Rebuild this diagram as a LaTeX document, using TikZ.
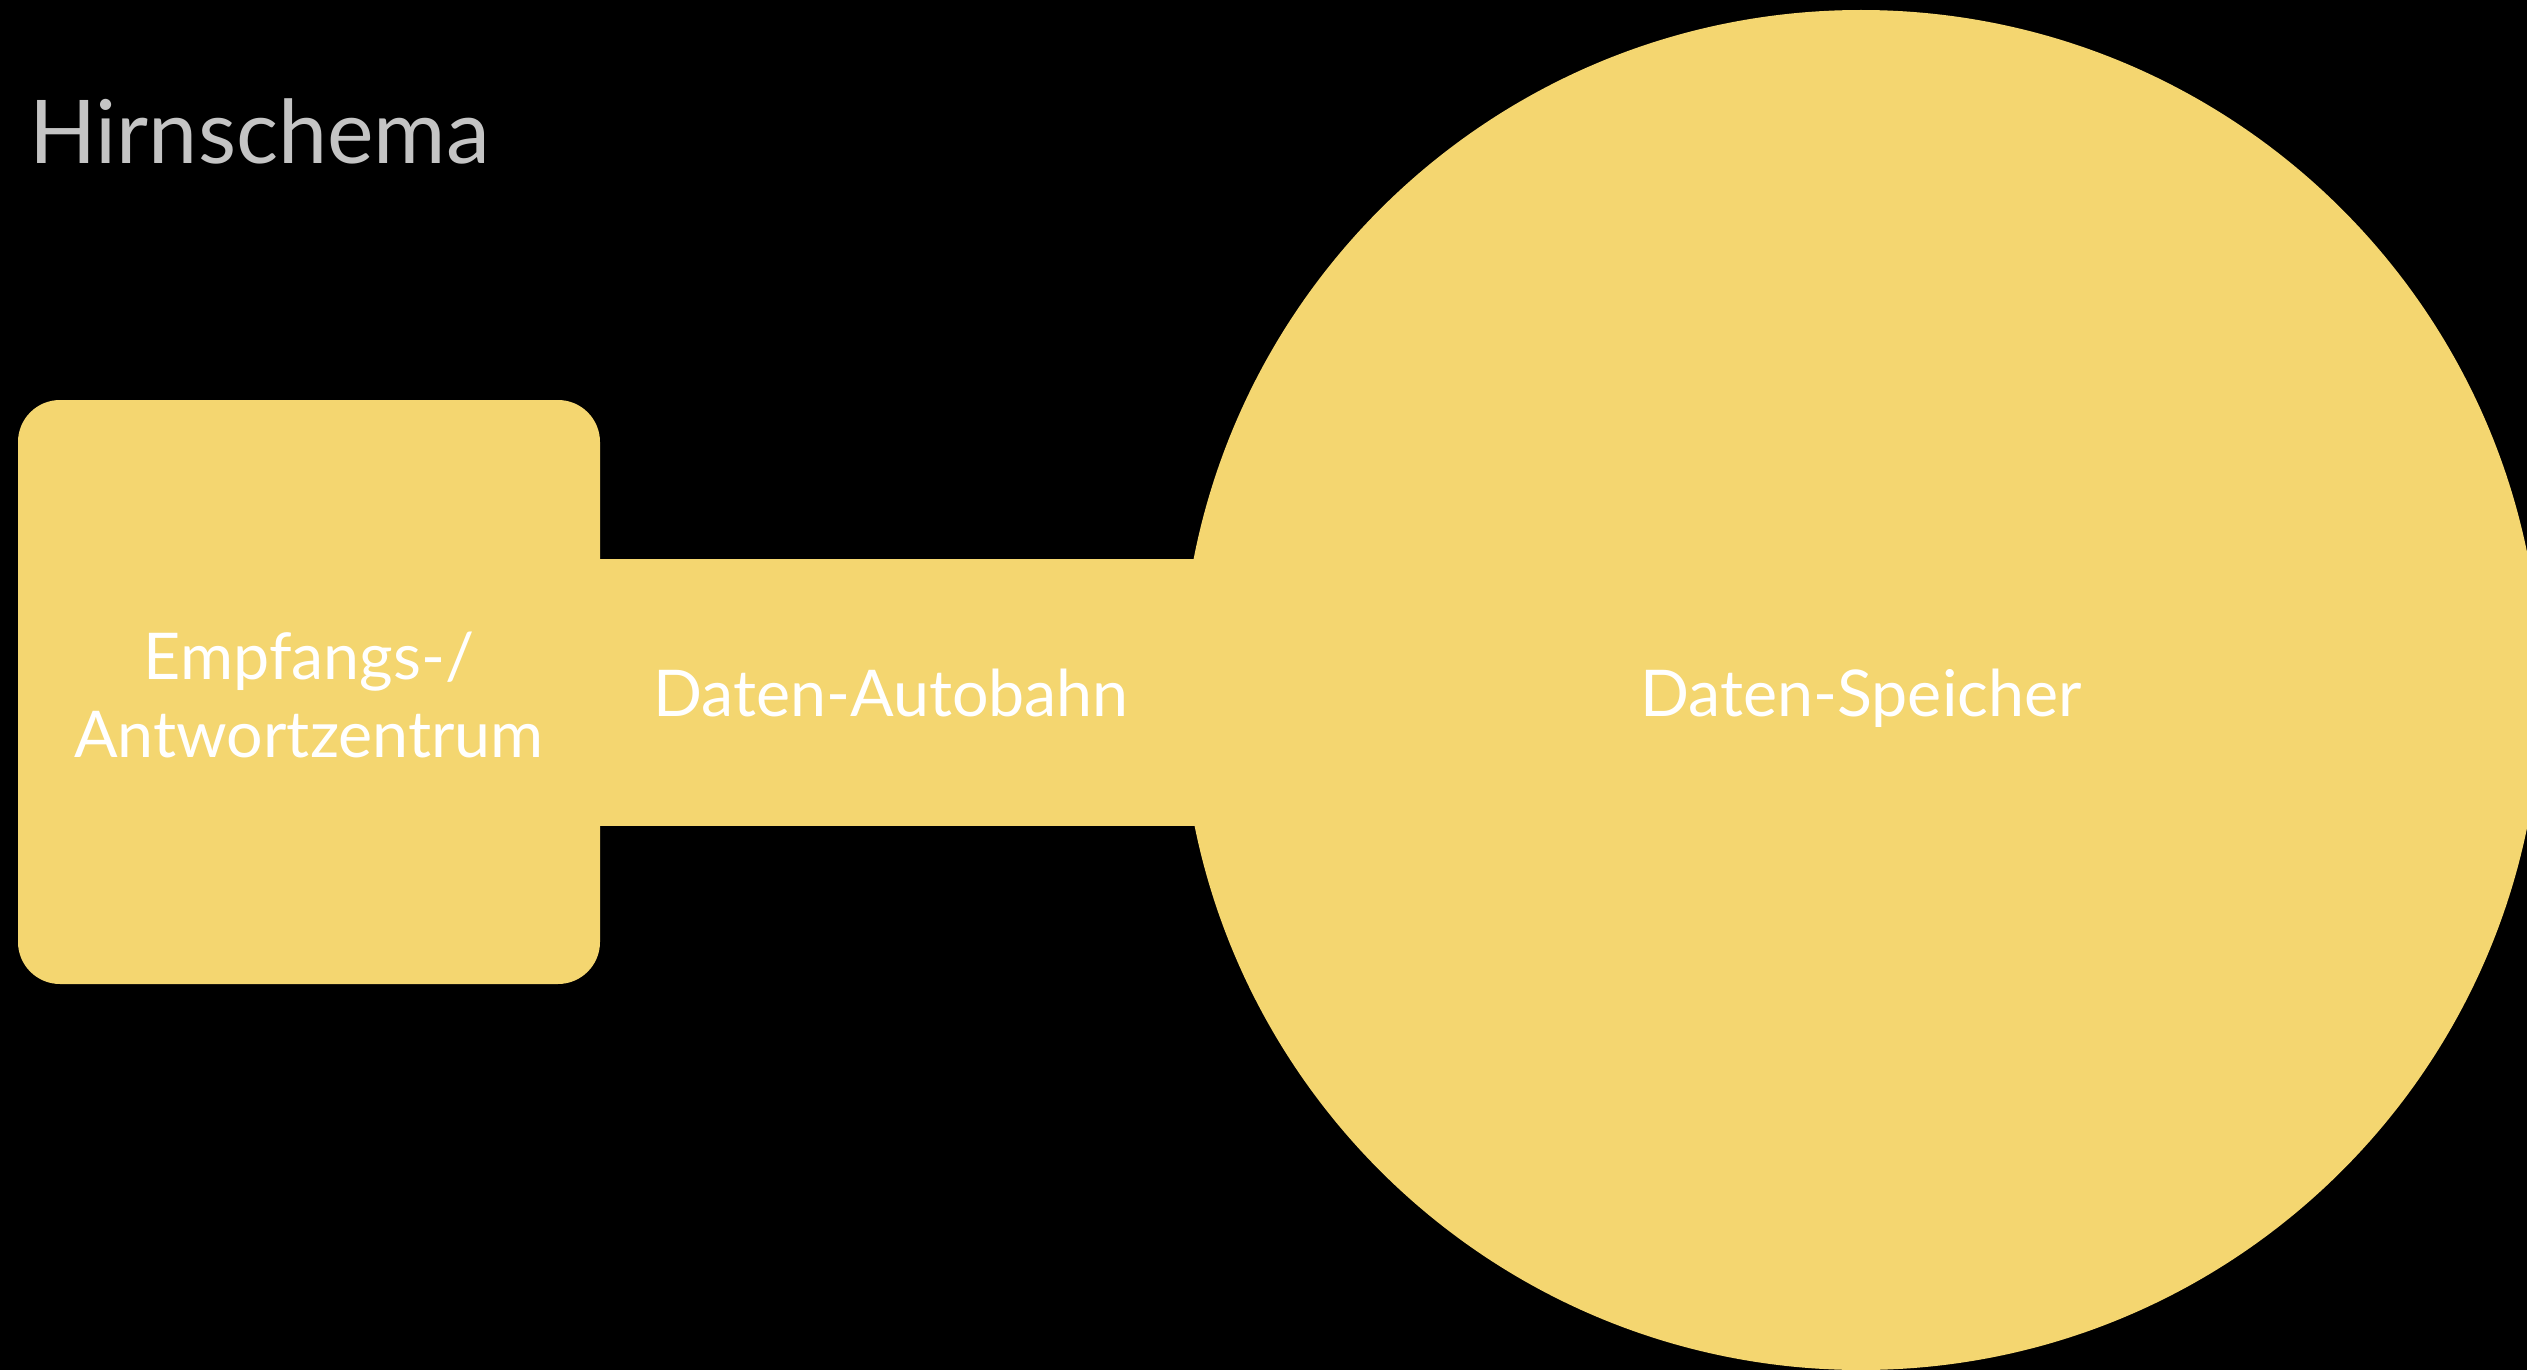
\documentclass[tikz,border=0pt]{standalone}
\usepackage{fontspec}
\setmainfont{Lato}
\definecolor{parchment}{HTML}{F4D670}
\definecolor{titlegray}{HTML}{C4C4C4}
\tikzset{
  blob/.style={fill=parchment, draw=none, inner sep=0pt},
  txt/.style={font=\fontsize{64.5}{72}\selectfont, text=white, inner sep=0pt, anchor=base},
}
\begin{document}
\begin{tikzpicture}[x=1pt,y=-1pt]
  \useasboundingbox (0,0) rectangle (2527,1370);
  \clip (0,0) rectangle (2527,1370);
  \fill[black] (0,0) rectangle (2527,1370);

  % title
  \node[font=\fontsize{88}{96}\selectfont, text=titlegray, anchor=base west, inner sep=0pt]
    (title) at (29,164) {Hirnschema};

  % the three parts of the scheme
  \node[blob, rounded corners=42pt, minimum width=582pt, minimum height=584pt] (hub) at (309,692) {};
  \coordinate (storecenter) at (1861,690);
  \draw[parchment, line width=267pt] (hub.east) -- (hub.east -| storecenter);
  \node[blob, circle, minimum size=1360pt] (store) at (storecenter) {};

  % captions
  \node[txt] (hubtxtA) at (309,679) {Empfangs-/};
  \node[txt] (hubtxtB) at (309,757) {Antwortzentrum};
  \node[txt] (roadtxt) at (891,716) {Daten-Autobahn};
  \node[txt] (storetxt) at (1861,716) {Daten-Speicher};
\end{tikzpicture}
\end{document}
